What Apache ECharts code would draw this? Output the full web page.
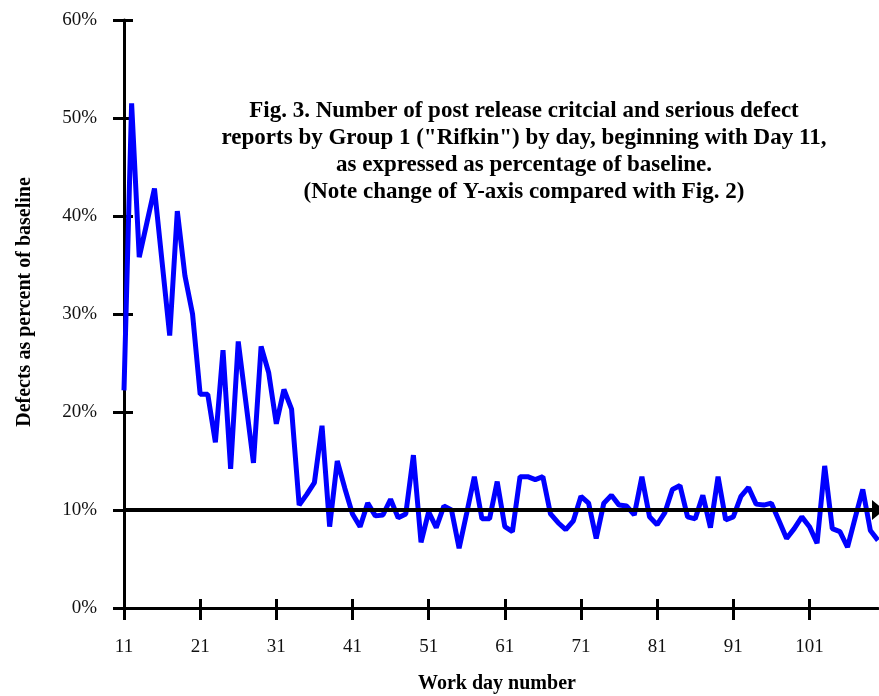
<!DOCTYPE html>
<html>
<head>
<meta charset="utf-8">
<title>Fig. 3 defects</title>
<script src="https://cdn.jsdelivr.net/npm/echarts@6.0.0/dist/echarts.min.js"></script>
<style>
  html, body { margin: 0; padding: 0; background: #fff; }
  #chart { width: 879px; height: 696px; }
</style>
</head>
<body>
<div id="chart"></div>
<script>
// work days 11..110
var days = [];
for (var d = 11; d <= 110; d++) days.push(String(d));

// defects as % of baseline
var defectPct = [
  22.2, 51.5, 35.8, 39.3, 42.8, 35.3, 27.8, 40.5, 33.9, 30.0,
  21.8, 21.8, 16.9, 26.3, 14.2, 27.2, 21.0, 14.8, 26.7, 24.0,
  18.8, 22.3, 20.3, 10.5, 11.6, 12.8, 18.6, 8.3, 15.0, 12.2,
  9.6, 8.3, 10.7, 9.4, 9.5, 11.1, 9.2, 9.6, 15.6, 6.7,
  9.8, 8.2, 10.4, 10.0, 6.1, 9.7, 13.4, 9.1, 9.1, 12.9,
  8.3, 7.8, 13.4, 13.4, 13.1, 13.4, 9.6, 8.7, 8.0, 8.9,
  11.4, 10.7, 7.1, 10.7, 11.5, 10.5, 10.4, 9.5, 13.4, 9.3,
  8.5, 9.7, 12.1, 12.5, 9.3, 9.1, 11.5, 8.2, 13.4, 9.0,
  9.3, 11.4, 12.3, 10.6, 10.5, 10.7, 8.9, 7.1, 8.1, 9.3,
  8.3, 6.6, 14.5, 8.1, 7.8, 6.2, 9.2, 12.1, 7.9, 6.9
];

var baselinePct = 10;
var yMin = 0, yMax = 60, yStep = 10;

var titleLines = [
  'Fig. 3. Number of post release critcial and serious defect',
  'reports by Group 1 ("Rifkin") by day, beginning with Day 11,',
  'as expressed as percentage of baseline.',
  '(Note change of Y-axis compared with Fig. 2)'
];

var serif = '"Liberation Serif", serif';
var chart = echarts.init(document.getElementById('chart'));

chart.setOption({
  backgroundColor: '#fff',
  animation: false,
  title: {
    text: titleLines.join('\n'),
    left: 519,
    top: 93,
    textAlign: 'center',
    textStyle: {
      fontFamily: serif,
      fontWeight: 'bold',
      fontSize: 23,
      lineHeight: 27,
      color: '#000'
    }
  },
  grid: { left: 124, right: 1, top: 20, bottom: 88 },
  xAxis: [
    {
      type: 'category',
      data: days,
      boundaryGap: false,
      axisLine: { lineStyle: { color: '#000', width: 3 } },
      axisTick: { interval: 9, length: 12, lineStyle: { color: '#000', width: 3 } },
      axisLabel: {
        interval: 9,
        margin: 30,
        fontFamily: serif,
        fontSize: 19,
        color: '#111'
      },
      splitLine: { show: false }
    },
    {
      type: 'category',
      data: days,
      boundaryGap: false,
      position: 'bottom',
      axisLine: { show: false },
      axisTick: { interval: 9, inside: true, length: 9, lineStyle: { color: '#000', width: 3 } },
      axisLabel: { show: false },
      splitLine: { show: false }
    }
  ],
  yAxis: [
    {
      type: 'value',
      min: yMin,
      max: yMax,
      interval: yStep,
      axisLine: { show: true, lineStyle: { color: '#000', width: 3 } },
      axisTick: { show: true, length: 11, lineStyle: { color: '#000', width: 3 } },
      axisLabel: {
        formatter: '{value}%',
        margin: 27,
        fontFamily: serif,
        fontSize: 19,
        color: '#111'
      },
      splitLine: { show: false }
    },
    {
      type: 'value',
      min: yMin,
      max: yMax,
      interval: yStep,
      position: 'left',
      axisLine: { show: false },
      axisTick: { show: true, inside: true, length: 9, lineStyle: { color: '#000', width: 3 } },
      axisLabel: { show: false },
      splitLine: { show: false }
    }
  ],
  graphic: [
    {
      type: 'text',
      x: 25,
      y: 302,
      rotation: Math.PI / 2,
      style: {
        text: 'Defects as percent of baseline',
        font: 'bold 20px ' + serif,
        fill: '#000',
        textAlign: 'center',
        textVerticalAlign: 'middle'
      }
    },
    {
      type: 'text',
      x: 497,
      y: 684,
      style: {
        text: 'Work day number',
        font: 'bold 20px ' + serif,
        fill: '#000',
        textAlign: 'center',
        textVerticalAlign: 'middle'
      }
    }
  ],
  series: [
    {
      type: 'line',
      data: defectPct,
      xAxisIndex: 0,
      yAxisIndex: 0,
      showSymbol: false,
      lineStyle: { color: '#0000ff', width: 5 },
      markLine: {
        silent: true,
        symbol: ['none', 'triangle'],
        symbolSize: [20, 12],
        label: { show: false },
        lineStyle: { color: '#000', width: 4, type: 'solid' },
        data: [{ yAxis: baselinePct }]
      }
    }
  ]
});
</script>
</body>
</html>
